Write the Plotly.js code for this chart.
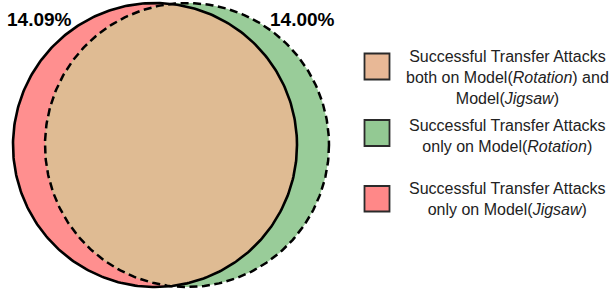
<!DOCTYPE html>
<html>
<head>
<meta charset="utf-8">
<script src="https://cdn.plot.ly/plotly-3.0.1.min.js"></script>
<style>html,body{margin:0;padding:0;background:#fff}#chart{width:612px;height:292px}</style>
</head>
<body>
<div id="chart"></div>
<script>
// ---- data ----
const setNames = ['Model(Jigsaw)', 'Model(Rotation)'];
const onlyPercents = [14.09, 14.00]; // share of successful transfer attacks only on each model
const legendLabels = [
  'Successful Transfer Attacks<br>both on Model(<i>Rotation</i>) and<br>Model(<i>Jigsaw</i>)',
  'Successful Transfer Attacks<br>only on Model(<i>Rotation</i>)',
  'Successful Transfer Attacks<br>only on Model(<i>Jigsaw</i>)'
];

// ---- styles / geometry (pixel-like axis units) ----
const colBoth = '#dfbb93', colRot = '#99cc99', colJig = '#ff8f8f';
const legendFill = ['#e8b896', '#93c993', '#ff8888'];
const circJ = {cx: 155, cy: 145, r: 142};   // Jigsaw circle (solid)
const circR = {cx: 187, cy: 145, r: 142};   // Rotation circle (dashed)

function arc(c, a0, a1, n) {
  const xs = [], ys = [];
  for (let i = 0; i <= n; i++) {
    const a = a0 + (a1 - a0) * i / n;
    xs.push(c.cx + c.r * Math.cos(a));
    ys.push(c.cy + c.r * Math.sin(a));
  }
  return {xs, ys};
}
const full = c => arc(c, 0, 2 * Math.PI, 360);
const d = circR.cx - circJ.cx;
const alpha = Math.acos((d / 2) / circJ.r);
const lensA = arc(circJ, -alpha, alpha, 200);
const lensB = arc(circR, Math.PI - alpha, Math.PI + alpha, 200);

const cJ = full(circJ), cR = full(circR);
const traces = [
  {x: cJ.xs, y: cJ.ys, type: 'scatter', mode: 'lines', fill: 'toself', fillcolor: colJig, line: {width: 0}, hoverinfo: 'skip', name: setNames[0]},
  {x: cR.xs, y: cR.ys, type: 'scatter', mode: 'lines', fill: 'toself', fillcolor: colRot, line: {width: 0}, hoverinfo: 'skip', name: setNames[1]},
  {x: lensA.xs.concat(lensB.xs), y: lensA.ys.concat(lensB.ys), type: 'scatter', mode: 'lines', fill: 'toself', fillcolor: colBoth, line: {width: 0}, hoverinfo: 'skip'},
  {x: cR.xs, y: cR.ys, type: 'scatter', mode: 'lines', line: {color: '#000', width: 2.5, dash: '8px,4.5px'}, hoverinfo: 'skip'},
  {x: cJ.xs, y: cJ.ys, type: 'scatter', mode: 'lines', line: {color: '#000', width: 2.6}, hoverinfo: 'skip'}
];

const font = '"Liberation Sans", Arial, Helvetica, sans-serif';
const annotations = [
  {x: 39.5, y: 19, text: '<b>' + onlyPercents[0].toFixed(2) + '%</b>', xref: 'x', yref: 'y', showarrow: false, font: {family: font, size: 19, color: '#000'}},
  {x: 302.5, y: 19, text: '<b>' + onlyPercents[1].toFixed(2) + '%</b>', xref: 'x', yref: 'y', showarrow: false, font: {family: font, size: 19, color: '#000'}}
];
const legendY = [77, 135.5, 199];
const sqY = [[53.5, 79.5], [120, 146], [186, 211.5]];
const shapes = [];
legendLabels.forEach((t, i) => {
  annotations.push({x: 507, y: legendY[i], text: t, xref: 'x', yref: 'y', showarrow: false, align: 'center', font: {family: font, size: 16, color: '#222'}});
  shapes.push({type: 'rect', xref: 'x', yref: 'y', x0: 364.5, x1: 389.5, y0: sqY[i][0], y1: sqY[i][1], fillcolor: legendFill[i], line: {color: '#2a2a2a', width: 1.8}});
});

const layout = {
  width: 612, height: 292,
  margin: {l: 0, r: 0, t: 0, b: 0},
  paper_bgcolor: '#fff', plot_bgcolor: '#fff',
  showlegend: false,
  xaxis: {range: [0, 612], visible: false, fixedrange: true},
  yaxis: {range: [292, 0], visible: false, fixedrange: true},
  annotations, shapes
};
Plotly.newPlot('chart', traces, layout, {staticPlot: true, displayModeBar: false});
</script>
</body>
</html>
